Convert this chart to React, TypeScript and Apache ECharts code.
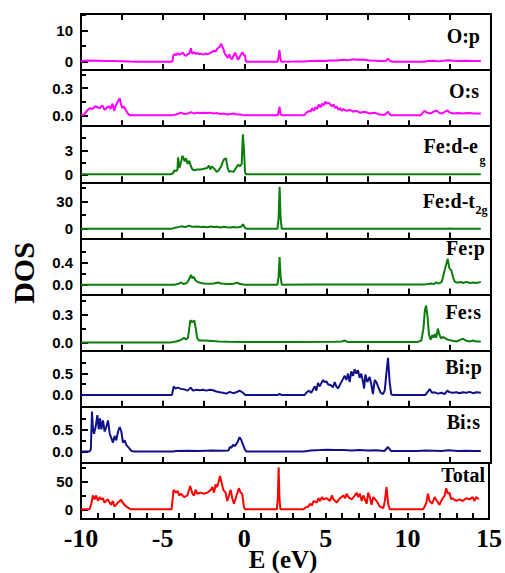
import React, { useEffect, useRef } from 'react';
import * as echarts from 'echarts';

// ---------- data: [E (eV), DOS] ----------
const O_P: number[][] = [[-10,0],[-9.85,0.3],[-9.5,0.35],[-9,0.3],[-8.5,0.25],[-8,0.2],[-7.5,0.15],[-7,0.05],[-6.5,0],[-4.5,0],[-4.42,0.2],[-4.38,2.0],[-4.3,2.4],[-4.2,2.1],[-4.1,2.7],[-4.0,2.2],[-3.9,2.5],[-3.8,2.9],[-3.7,2.2],[-3.6,1.9],[-3.5,2.4],[-3.4,2.6],[-3.3,4.3],[-3.22,2.6],[-3.1,3.0],[-3.0,2.5],[-2.9,2.8],[-2.8,2.4],[-2.7,2.6],[-2.6,2.4],[-2.5,2.3],[-2.4,2.7],[-2.3,2.4],[-2.2,2.6],[-2.1,2.9],[-2.0,3.1],[-1.9,3.6],[-1.8,3.2],[-1.7,4.1],[-1.6,4.6],[-1.52,4.9],[-1.45,5.8],[-1.38,4.8],[-1.3,3.8],[-1.22,2.4],[-1.15,2.1],[-1.05,1.2],[-0.95,2.4],[-0.87,1.1],[-0.78,0.8],[-0.7,2.0],[-0.6,2.9],[-0.5,1.5],[-0.42,0.6],[-0.33,1.5],[-0.22,2.5],[-0.15,3.0],[-0.07,2.2],[0.0,2.0],[0.05,0.1],[0.1,0],[1.98,0],[2.05,1.5],[2.1,3.8],[2.16,1.0],[2.22,0],[3.0,0.05],[3.6,0.1],[4.0,0.2],[4.5,0.3],[4.8,0.2],[5.2,0.4],[5.6,0.35],[6.0,0.6],[6.3,0.5],[6.6,0.8],[6.8,0.6],[7.0,0.7],[7.3,0.6],[7.6,0.4],[8.0,0.3],[8.3,0.2],[8.6,0.3],[8.72,1.0],[8.85,0.2],[9.0,0],[10.9,0],[11.2,0.2],[11.5,0.3],[11.8,0.1],[12.1,0.3],[12.4,0.5],[12.7,0.3],[13.0,0.2],[13.5,0.3],[14.0,0.2],[14.38,0.2]];

const O_S: number[][] = [[-10,0],[-9.8,0.01],[-9.6,0.06],[-9.45,0.08],[-9.3,0.07],[-9.15,0.1],[-9.0,0.09],[-8.85,0.08],[-8.7,0.11],[-8.55,0.06],[-8.4,0.09],[-8.3,0.1],[-8.2,0.07],[-8.08,0.13],[-7.98,0.05],[-7.88,0.11],[-7.76,0.15],[-7.64,0.19],[-7.56,0.12],[-7.48,0.08],[-7.4,0.1],[-7.3,0.07],[-7.15,0.02],[-7.0,0],[-4.5,0],[-4.2,0.01],[-3.9,0.03],[-3.7,0.015],[-3.5,0.02],[-3.3,0.035],[-3.1,0.02],[-2.9,0.03],[-2.7,0.025],[-2.5,0.03],[-2.3,0.025],[-2.1,0.03],[-1.9,0.02],[-1.7,0.025],[-1.5,0.015],[-1.3,0.02],[-1.1,0.01],[-0.9,0.015],[-0.7,0.02],[-0.5,0.01],[-0.3,0.01],[0,0],[2.0,0],[2.06,0.05],[2.11,0.095],[2.16,0.02],[2.22,0],[3.6,0],[3.75,0.03],[3.9,0.05],[4.0,0.04],[4.1,0.08],[4.2,0.05],[4.3,0.09],[4.4,0.07],[4.5,0.12],[4.6,0.09],[4.7,0.13],[4.8,0.11],[4.9,0.15],[5.0,0.13],[5.1,0.14],[5.2,0.12],[5.3,0.1],[5.4,0.12],[5.5,0.08],[5.6,0.1],[5.7,0.06],[5.8,0.08],[5.9,0.05],[6.0,0.07],[6.2,0.05],[6.4,0.06],[6.6,0.04],[6.8,0.05],[7.0,0.03],[7.3,0.04],[7.6,0.02],[7.9,0.03],[8.2,0.01],[8.5,0.005],[8.72,0.04],[8.85,0.005],[9.0,0],[10.7,0],[10.85,0.03],[10.95,0.05],[11.1,0.03],[11.3,0.02],[11.5,0.04],[11.67,0.055],[11.85,0.025],[12.0,0.02],[12.2,0.04],[12.34,0.055],[12.5,0.03],[12.7,0.02],[13.0,0.025],[13.3,0.02],[13.6,0.025],[14.0,0.02],[14.38,0.02]];

const FE_EG: number[][] = [[-10,0],[-4.55,0],[-4.4,0.1],[-4.3,0.5],[-4.2,0.4],[-4.12,0.6],[-4.08,2.1],[-4.0,0.8],[-3.9,1.5],[-3.82,2.3],[-3.76,2.1],[-3.68,1.6],[-3.6,2.0],[-3.5,1.3],[-3.4,1.7],[-3.3,1.0],[-3.2,0.6],[-3.1,0.5],[-2.9,0.6],[-2.7,0.6],[-2.5,0.7],[-2.3,0.8],[-2.2,1.1],[-2.12,0.6],[-2.03,1.0],[-1.93,0.8],[-1.83,0.6],[-1.73,0.3],[-1.6,0.5],[-1.45,1.0],[-1.35,1.6],[-1.26,1.9],[-1.16,2.0],[-1.06,0.8],[-0.96,0.3],[-0.86,0.4],[-0.7,0.3],[-0.55,0.8],[-0.4,1.2],[-0.3,1.0],[-0.2,1.3],[-0.13,5.0],[-0.06,3.0],[0.0,0.3],[0.06,0],[14.38,0.02]];

const FE_T2G: number[][] = [[-10,0],[-4.5,0],[-4.35,0.8],[-4.2,1.5],[-4.0,2.2],[-3.85,2.8],[-3.7,2.0],[-3.55,2.6],[-3.4,3.5],[-3.25,2.4],[-3.1,2.2],[-2.9,2.6],[-2.7,2.0],[-2.5,2.4],[-2.3,1.8],[-2.1,2.5],[-1.9,2.0],[-1.7,2.2],[-1.5,1.6],[-1.3,2.3],[-1.1,1.8],[-0.9,1.5],[-0.7,2.1],[-0.5,1.6],[-0.3,2.0],[-0.2,3.0],[-0.12,5.0],[-0.05,2.5],[0.05,0.3],[0.15,0],[1.98,0],[2.05,12],[2.11,46],[2.17,12],[2.24,0],[12.3,0],[12.5,0.5],[12.7,0],[14.38,0]];

const FE_P: number[][] = [[-10,0],[-4.3,0],[-4.1,0.01],[-3.88,0.04],[-3.75,0.01],[-3.55,0.03],[-3.4,0.1],[-3.3,0.18],[-3.22,0.12],[-3.12,0.14],[-3.02,0.08],[-2.9,0.05],[-2.7,0.03],[-2.5,0.02],[-2.2,0.015],[-1.9,0.02],[-1.65,0.04],[-1.45,0.02],[-1.1,0.01],[-0.8,0.01],[-0.47,0.035],[-0.3,0.01],[0,0],[1.98,0],[2.05,0.15],[2.11,0.5],[2.17,0.15],[2.24,0],[4,0.005],[8,0.005],[11.0,0.005],[11.36,0.02],[11.5,0.01],[11.67,0.04],[11.8,0.02],[12.0,0.05],[12.12,0.2],[12.25,0.35],[12.36,0.47],[12.46,0.3],[12.58,0.26],[12.7,0.12],[12.8,0.05],[12.9,0.04],[13.0,0.04],[13.15,0.05],[13.3,0.03],[13.5,0.05],[13.7,0.03],[13.9,0.04],[14.1,0.03],[14.25,0.04],[14.38,0.05]];

const FE_S: number[][] = [[-10,0],[-4.5,0],[-4.2,0.01],[-4.0,0.02],[-3.88,0.03],[-3.72,0.05],[-3.6,0.03],[-3.48,0.05],[-3.4,0.15],[-3.33,0.24],[-3.2,0.22],[-3.1,0.24],[-3.0,0.15],[-2.92,0.05],[-2.8,0.02],[-2.5,0.02],[-2.0,0.015],[-1.6,0.01],[-1.0,0.008],[0,0.005],[3,0.003],[5.5,0.008],[5.9,0.01],[6.08,0.02],[6.25,0.005],[8,0.005],[10.5,0.003],[10.75,0.02],[10.88,0.15],[10.97,0.35],[11.04,0.4],[11.12,0.3],[11.22,0.08],[11.32,0.03],[11.42,0.08],[11.5,0.05],[11.58,0.09],[11.66,0.05],[11.76,0.15],[11.86,0.08],[11.96,0.04],[12.06,0.06],[12.17,0.05],[12.35,0.03],[12.58,0.02],[12.9,0.01],[13.15,0.03],[13.3,0.04],[13.45,0.02],[13.7,0.01],[13.9,0.02],[14.1,0.01],[14.38,0.01]];

const BI_P: number[][] = [[-10,0],[-4.45,0],[-4.35,0.2],[-4.25,0.15],[-4.1,0.17],[-3.9,0.14],[-3.7,0.13],[-3.5,0.1],[-3.31,0.17],[-3.17,0.1],[-2.97,0.12],[-2.76,0.11],[-2.56,0.12],[-2.36,0.1],[-2.15,0.12],[-1.95,0.11],[-1.75,0.08],[-1.54,0.06],[-1.34,0.05],[-1.14,0.03],[-0.93,0.07],[-0.73,0.04],[-0.53,0.06],[-0.33,0.1],[-0.12,0.05],[0.0,0],[2.0,0],[2.11,0.02],[2.22,0],[3.64,0],[3.74,0.05],[3.88,0.1],[4.04,0.05],[4.25,0.2],[4.35,0.1],[4.45,0.28],[4.55,0.2],[4.76,0.35],[4.86,0.3],[4.96,0.32],[5.06,0.25],[5.26,0.22],[5.37,0.18],[5.47,0.3],[5.57,0.2],[5.67,0.15],[5.87,0.3],[6.08,0.45],[6.18,0.35],[6.28,0.5],[6.38,0.3],[6.48,0.55],[6.59,0.45],[6.69,0.6],[6.79,0.5],[6.89,0.58],[6.99,0.4],[7.09,0.5],[7.2,0.3],[7.26,0.15],[7.34,0.48],[7.46,0.3],[7.6,0.42],[7.7,0.25],[7.8,0.02],[7.91,0.35],[8.01,0.3],[8.11,0.2],[8.27,0.05],[8.41,0.02],[8.52,0.1],[8.62,0.5],[8.72,0.87],[8.82,0.3],[8.92,0.01],[9.02,0],[11.0,0],[11.06,0.03],[11.16,0.08],[11.26,0.14],[11.4,0.05],[11.56,0.06],[11.77,0.03],[11.97,0.05],[12.17,0.02],[12.34,0.1],[12.48,0.06],[12.68,0.05],[12.89,0.06],[13.09,0.04],[13.28,0.06],[13.49,0.05],[13.7,0.07],[13.9,0.04],[14.11,0.06],[14.38,0.05]];

const BI_S: number[][] = [[-10,0],[-9.47,0],[-9.4,0.05],[-9.33,0.9],[-9.27,0.5],[-9.21,0.4],[-9.11,0.55],[-9.0,0.82],[-8.92,0.5],[-8.84,0.75],[-8.76,0.5],[-8.66,0.7],[-8.56,0.45],[-8.46,0.55],[-8.35,0.7],[-8.25,0.4],[-8.15,0.3],[-8.05,0.2],[-7.95,0.35],[-7.85,0.25],[-7.74,0.45],[-7.64,0.55],[-7.54,0.45],[-7.44,0.2],[-7.34,0.25],[-7.24,0.15],[-7.13,0.1],[-6.93,0.01],[-6.73,0],[-4.4,0],[-4.2,0.01],[-3.5,0.015],[-2.8,0.01],[-2.0,0.02],[-1.4,0.015],[-1.0,0.02],[-0.93,0.1],[-0.83,0.08],[-0.73,0.15],[-0.63,0.12],[-0.47,0.2],[-0.33,0.32],[-0.22,0.25],[-0.12,0.15],[-0.02,0.05],[0.08,0],[3.6,0],[4.0,0.02],[4.6,0.03],[5.0,0.04],[5.5,0.03],[6.0,0.03],[6.5,0.02],[7.0,0.03],[7.5,0.02],[8.0,0.025],[8.5,0.01],[8.72,0.1],[8.9,0.01],[9.5,0.01],[10.5,0.01],[11.0,0.02],[11.5,0.015],[12.0,0.01],[12.4,0.025],[13.0,0.01],[13.5,0.015],[14.0,0.01],[14.38,0.01]];

const TOTAL: number[][] = [[-10,0],[-9.47,0],[-9.37,10],[-9.27,25],[-9.17,18],[-9.07,25],[-8.96,15],[-8.86,22],[-8.76,18],[-8.66,20],[-8.56,12],[-8.46,15],[-8.35,18],[-8.25,12],[-8.15,8],[-8.05,15],[-7.95,5],[-7.85,8],[-7.74,12],[-7.64,15],[-7.54,17],[-7.44,12],[-7.34,8],[-7.13,3],[-6.93,0],[-4.45,0],[-4.33,35],[-4.19,30],[-4.09,33],[-3.98,25],[-3.88,28],[-3.68,22],[-3.48,25],[-3.31,42],[-3.17,28],[-3.07,25],[-2.97,35],[-2.87,28],[-2.66,30],[-2.46,28],[-2.26,30],[-2.05,35],[-1.95,40],[-1.85,30],[-1.75,45],[-1.65,40],[-1.48,60],[-1.4,50],[-1.28,35],[-1.14,30],[-1.04,15],[-0.93,25],[-0.83,35],[-0.73,20],[-0.63,10],[-0.47,25],[-0.33,38],[-0.22,30],[-0.12,28],[-0.02,5],[0.05,0],[2.0,0],[2.06,20],[2.11,76],[2.16,20],[2.22,0],[3.64,0],[3.74,3],[3.94,5],[4.04,10],[4.15,7],[4.25,15],[4.45,12],[4.55,20],[4.65,15],[4.76,22],[4.86,18],[5.06,20],[5.26,15],[5.37,25],[5.47,18],[5.67,12],[5.87,20],[6.08,25],[6.18,20],[6.28,28],[6.38,22],[6.59,18],[6.79,25],[6.89,30],[6.99,22],[7.09,28],[7.2,15],[7.3,25],[7.5,10],[7.6,30],[7.7,22],[7.8,8],[7.91,22],[8.11,15],[8.31,5],[8.52,2],[8.62,15],[8.72,40],[8.82,10],[8.92,0],[10.96,0],[11.06,5],[11.16,12],[11.26,28],[11.36,15],[11.52,10],[11.67,22],[11.81,15],[11.97,8],[12.07,15],[12.17,20],[12.28,25],[12.38,38],[12.48,28],[12.58,30],[12.68,18],[12.77,20],[12.99,15],[13.18,18],[13.39,15],[13.6,20],[13.8,18],[14.0,22],[14.11,15],[14.21,22],[14.38,18]];

const SERIES_DATA = [O_P, O_S, FE_EG, FE_T2G, FE_P, FE_S, BI_P, BI_S, TOTAL];

// panel labels: [main text, subscript]
const PANEL_LABELS: string[][] = [['O:p', ''], ['O:s', ''], ['Fe:d-e', 'g'], ['Fe:d-t', '2g'], ['Fe:p', ''], ['Fe:s', ''], ['Bi:p', ''], ['Bi:s', ''], ['Total', '']];

// y-axis ranges and tick values
const Y_MIN = [-2.7, -0.12, -1, -10.5, -0.18, -0.09, -0.28, -0.26, -17.5];
const Y_MAX = [15.3, 0.5, 6, 51, 0.84, 0.52, 1.04, 1.01, 83.7];
const Y_LABELS = [[0, 10], [0, 0.3], [0, 3], [0, 30], [0, 0.4], [0, 0.3], [0, 0.5], [0, 0.5], [0, 50]];
const Y_MINOR = [[5, 15], [0.15, 0.45], [1.5, 4.5], [15, 45], [0.2, 0.6], [0.15, 0.45], [0.25, 0.75], [0.25, 0.75], [25, 75]];
const Y_DECIMALS = [0, 1, 0, 0, 1, 1, 1, 1, 0];

const X_MIN = -10;
const X_MAX = 15;

// styles / layout
const COLORS = ['#ff00ff', '#ff00ff', '#0b7d0b', '#0b7d0b', '#0b7d0b', '#0b7d0b', '#10108a', '#10108a', '#ff0000'];
const LABEL_POS = [[480, 36], [479, 91], [478, 146], [475, 201], [485, 248], [481, 312], [482, 367], [480, 422], [485, 475]];
const SUB_POS = [[0, 0], [0, 0], [479.5, 160], [475.5, 210], [0, 0], [0, 0], [0, 0], [0, 0], [0, 0]];

const W = 505;
const H = 573;
const LEFT = 81;
const RIGHT_X = 491;
const TOP = 14;
const BOTTOM = 519;

export default function App() {
  const ref = useRef<HTMLDivElement>(null);
  useEffect(() => {
    if (!ref.current) return;
    const chart = echarts.init(ref.current, undefined, { renderer: 'svg' });
    const n = SERIES_DATA.length;
    const ph = (BOTTOM - TOP) / n;
    const grids: any[] = [];
    const xAxes: any[] = [];
    const yAxes: any[] = [];
    const series: any[] = [];
    const graphics: any[] = [];
    const serif = '"Liberation Serif", "Times New Roman", serif';
    const mk = () => ({ color: '#000', width: 2 });
    for (let i = 0; i < n; i++) {
      grids.push({ left: LEFT, width: RIGHT_X - LEFT, top: TOP + i * ph, height: ph, show: false });
      const last = i === n - 1;
      // bottom x axis: frame bottom + inward ticks
      xAxes.push({
        gridIndex: i, type: 'value', min: X_MIN, max: X_MAX, interval: last ? 5 : 2.5, position: 'bottom',
        axisLine: { show: true, onZero: false, lineStyle: mk() },
        splitLine: { show: false },
        axisTick: { show: true, inside: true, length: 6, lineStyle: mk() },
        minorTick: { show: last, splitNumber: 5, length: 6, lineStyle: mk() },
        axisLabel: {
          show: last, margin: 6, color: '#000', fontFamily: serif, fontWeight: 'bold', fontSize: 26,
        },
      });
      // top x axis: frame top (ticks only on the first panel)
      xAxes.push({
        gridIndex: i, type: 'value', min: X_MIN, max: X_MAX, interval: 2.5, position: 'top',
        axisLine: { show: true, onZero: false, lineStyle: mk() },
        splitLine: { show: false }, axisLabel: { show: false },
        axisTick: { show: i === 0, inside: true, length: 6, lineStyle: mk() },
      });
      // left y axis with labelled ticks
      yAxes.push({
        gridIndex: i, type: 'value', min: Y_MIN[i], max: Y_MAX[i], position: 'left',
        axisLine: { show: true, onZero: false, lineStyle: mk() },
        splitLine: { show: false },
        axisTick: { show: true, inside: true, length: 7, customValues: Y_LABELS[i], lineStyle: mk() },
        axisLabel: {
          customValues: Y_LABELS[i], margin: 8, color: '#000',
          fontFamily: '"Liberation Sans", Arial, sans-serif', fontWeight: 'bold', fontSize: 15,
          formatter: (v: number) => v.toFixed(Y_DECIMALS[i]),
        },
      });
      // right y axis: frame right
      yAxes.push({
        gridIndex: i, type: 'value', min: Y_MIN[i], max: Y_MAX[i], position: 'right',
        axisLine: { show: true, onZero: false, lineStyle: mk() },
        splitLine: { show: false }, axisTick: { show: false }, axisLabel: { show: false },
      });
      series.push({
        type: 'line', xAxisIndex: 2 * i, yAxisIndex: 2 * i, data: SERIES_DATA[i],
        showSymbol: false, symbol: 'none', lineStyle: { color: COLORS[i], width: 2 },
        itemStyle: { color: COLORS[i] }, silent: true,
      });
      const [lab, sub] = PANEL_LABELS[i];
      graphics.push({
        type: 'text', x: LABEL_POS[i][0], y: LABEL_POS[i][1],
        style: {
          text: lab, fill: '#000', fontFamily: serif, fontWeight: 'bold', fontSize: 20,
          textAlign: 'right', textVerticalAlign: 'middle',
        },
      });
      if (sub) {
        graphics.push({
          type: 'text', x: SUB_POS[i][0], y: SUB_POS[i][1],
          style: {
            text: sub, fill: '#000', fontFamily: serif, fontWeight: 'bold', fontSize: 12,
            textAlign: 'left', textVerticalAlign: 'middle',
          },
        });
      }
    }
    // minor y ticks on an extra left axis per panel
    for (let i = 0; i < n; i++) {
      yAxes.push({
        gridIndex: i, type: 'value', min: Y_MIN[i], max: Y_MAX[i], position: 'left',
        axisLine: { show: false, onZero: false }, splitLine: { show: false },
        axisTick: { show: true, inside: true, length: 5, customValues: Y_MINOR[i], lineStyle: mk() },
        axisLabel: { show: false },
      });
    }
    graphics.push({
      type: 'text', x: 23, y: 273, rotation: Math.PI / 2,
      style: {
        text: 'DOS', fill: '#000', fontFamily: serif, fontWeight: 'bold', fontSize: 30,
        textAlign: 'center', textVerticalAlign: 'middle',
      },
    });
    graphics.push({
      type: 'text', x: 283, y: 559,
      style: {
        text: 'E (eV)', fill: '#000', fontFamily: serif, fontWeight: 'bold', fontSize: 25,
        textAlign: 'center', textVerticalAlign: 'middle',
      },
    });
    chart.setOption({
      animation: false,
      backgroundColor: '#fff',
      grid: grids,
      xAxis: xAxes,
      yAxis: yAxes,
      series,
      graphic: graphics,
    });
    return () => chart.dispose();
  }, []);
  return <div ref={ref} style={{ position: 'absolute', left: 0, top: 0, width: W, height: H }} />;
}
